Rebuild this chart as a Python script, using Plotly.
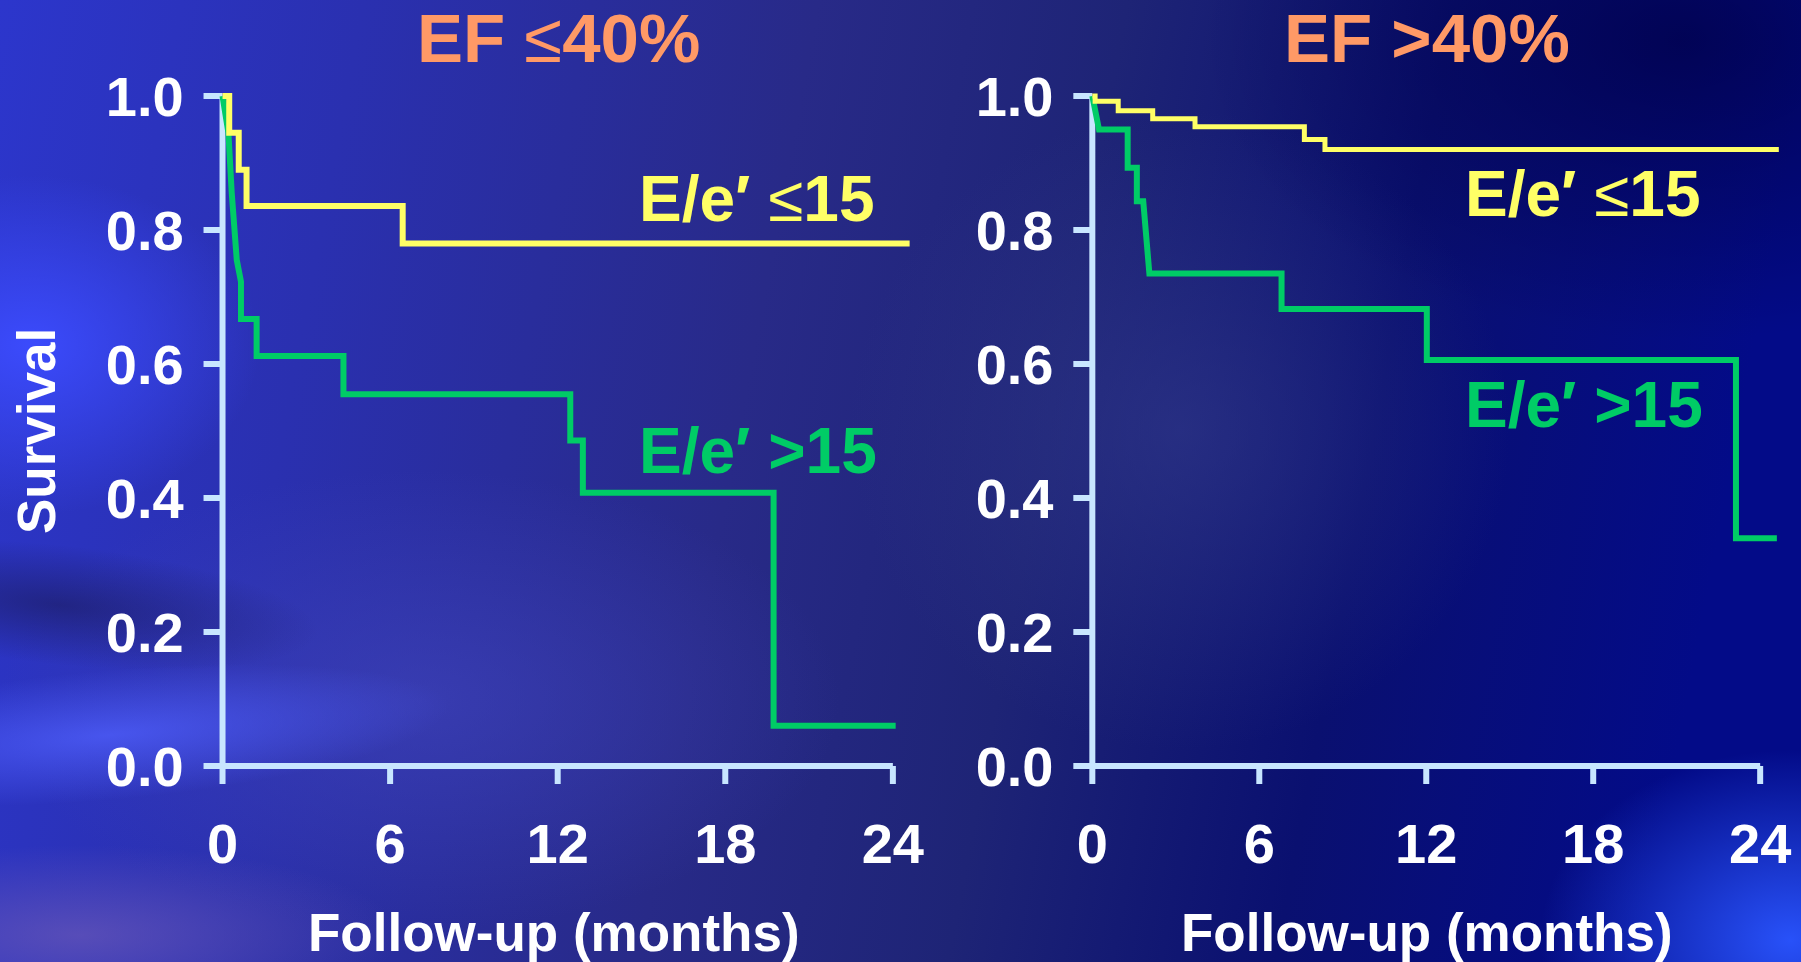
import base64
import plotly.graph_objects as go

W, H = 1801, 962

# Kaplan-Meier survival curves (polyline vertices: months, survival)
# EF <=40%
ef_low_ee_low_t = [0, 0.24, 0.24, 0.58, 0.58, 0.86, 0.86, 6.45, 6.45, 24.6]
ef_low_ee_low_s = [1.0, 1.0, 0.945, 0.945, 0.89, 0.89, 0.836, 0.836, 0.78, 0.78]

ef_low_ee_high_t = [0, 0.21, 0.33, 0.51, 0.66, 0.66, 1.22, 1.22, 4.33, 4.33,
                    12.45, 12.45, 12.9, 12.9, 19.73, 19.73, 24.1]
ef_low_ee_high_s = [1.0, 0.945, 0.855, 0.755, 0.723, 0.667, 0.667, 0.612, 0.612, 0.555,
                    0.555, 0.486, 0.486, 0.408, 0.408, 0.06, 0.06]

# EF >40%
ef_high_ee_low_t = [0, 0.1, 0.1, 0.93, 0.93, 2.17, 2.17, 3.69, 3.69, 7.62, 7.62,
                    8.36, 8.36, 24.67]
ef_high_ee_low_s = [1.0, 1.0, 0.992, 0.992, 0.978, 0.978, 0.966, 0.966, 0.954, 0.954,
                    0.935, 0.935, 0.92, 0.92]

ef_high_ee_high_t = [0, 0.24, 1.27, 1.27, 1.6, 1.6, 1.83, 2.05, 6.8, 6.8,
                     12.02, 12.02, 23.13, 23.13, 24.6]
ef_high_ee_high_s = [1.0, 0.95, 0.95, 0.893, 0.893, 0.843, 0.843, 0.735, 0.735, 0.682,
                     0.682, 0.606, 0.606, 0.34, 0.34]

panel_titles = ["EF <span style='font-weight:normal'>≤</span>40%", "EF >40%"]
curve_labels = ["E/e′ <span style='font-weight:normal'>≤</span>15", "E/e′ >15"]

x_ticks = [0, 6, 12, 18, 24]
x_tick_text = ["0", "6", "12", "18", "24"]
y_ticks = [0.0, 0.2, 0.4, 0.6, 0.8, 1.0]
y_tick_text = ["0.0", "0.2", "0.4", "0.6", "0.8", "1.0"]

YELLOW = "#FFFF66"
GREEN = "#00CC66"
AXIS = "#C8E6FF"
ORANGE = "#FF9966"
FONT = "Liberation Sans, Arial, sans-serif"

# slide-style blue background
svg = f"""<svg xmlns='http://www.w3.org/2000/svg' width='{W}' height='{H}' viewBox='0 0 {W} {H}' preserveAspectRatio='none'>
<defs>
 <linearGradient id='base' x1='0' y1='0' x2='1' y2='0.1'>
  <stop offset='0' stop-color='#2c36cc'/>
  <stop offset='0.2' stop-color='#2a30b0'/>
  <stop offset='0.45' stop-color='#282a88'/>
  <stop offset='0.62' stop-color='#1e2476'/>
  <stop offset='0.8' stop-color='#0a1070'/>
  <stop offset='1' stop-color='#030b88'/>
 </linearGradient>
 <radialGradient id='glowL'><stop offset='0' stop-color='#3c4cff' stop-opacity='0.95'/><stop offset='1' stop-color='#3c4cff' stop-opacity='0'/></radialGradient>
 <radialGradient id='streak'><stop offset='0' stop-color='#5060ff' stop-opacity='0.75'/><stop offset='1' stop-color='#5060ff' stop-opacity='0'/></radialGradient>
 <radialGradient id='dark'><stop offset='0' stop-color='#1a1a5c' stop-opacity='0.6'/><stop offset='1' stop-color='#1a1a5c' stop-opacity='0'/></radialGradient>
 <radialGradient id='navy'><stop offset='0' stop-color='#000048' stop-opacity='0.75'/><stop offset='1' stop-color='#000048' stop-opacity='0'/></radialGradient>
 <radialGradient id='glowR'><stop offset='0' stop-color='#2a55ff' stop-opacity='0.95'/><stop offset='1' stop-color='#2a55ff' stop-opacity='0'/></radialGradient>
 <radialGradient id='soft'><stop offset='0' stop-color='#4448c0' stop-opacity='0.55'/><stop offset='1' stop-color='#4448c0' stop-opacity='0'/></radialGradient>
 <radialGradient id='soft2'><stop offset='0' stop-color='#323a8c' stop-opacity='0.6'/><stop offset='1' stop-color='#323a8c' stop-opacity='0'/></radialGradient>
 <radialGradient id='purple'><stop offset='0' stop-color='#6a58b8' stop-opacity='0.7'/><stop offset='1' stop-color='#6a58b8' stop-opacity='0'/></radialGradient>
</defs>
<rect width='100%' height='100%' fill='url(#base)'/>
<ellipse cx='420' cy='700' rx='420' ry='230' fill='url(#soft)'/>
<ellipse cx='1180' cy='430' rx='330' ry='320' fill='url(#soft2)'/>
<ellipse cx='1680' cy='40' rx='480' ry='300' fill='url(#navy)'/>
<ellipse cx='30' cy='345' rx='230' ry='170' fill='url(#glowL)'/>
<ellipse cx='60' cy='605' rx='260' ry='60' transform='rotate(6 60 605)' fill='url(#dark)'/>
<ellipse cx='110' cy='735' rx='340' ry='65' transform='rotate(-5 110 735)' fill='url(#streak)'/>
<ellipse cx='80' cy='935' rx='320' ry='90' fill='url(#purple)'/>
<ellipse cx='1790' cy='940' rx='250' ry='190' fill='url(#glowR)'/>
</svg>"""
bg_uri = "data:image/svg+xml;base64," + base64.b64encode(svg.encode("utf-8")).decode("ascii")

# pixel frame of the two panels
X_RANGE = [-1.0, 25.0]
Y_RANGE = [-0.05, 1.03]
x_domains = [[194.6 / W, 920.8 / W], [1064.5 / W, 1788.0 / W]]
y_domain = [(H - 799.5) / H, (H - 75.9) / H]

fig = go.Figure()

panels = [
    (ef_low_ee_low_t, ef_low_ee_low_s, ef_low_ee_high_t, ef_low_ee_high_s),
    (ef_high_ee_low_t, ef_high_ee_low_s, ef_high_ee_high_t, ef_high_ee_high_s),
]

for i, (yt, ys, gt, gs) in enumerate(panels):
    xa = "x" if i == 0 else "x2"
    ya = "y" if i == 0 else "y2"
    fig.add_trace(go.Scatter(x=gt, y=gs, mode="lines", xaxis=xa, yaxis=ya,
                             line=dict(color=GREEN, width=6), hoverinfo="skip"))
    fig.add_trace(go.Scatter(x=yt, y=ys, mode="lines", xaxis=xa, yaxis=ya,
                             line=dict(color=YELLOW, width=6 if i == 0 else 5),
                             hoverinfo="skip"))

shapes = []
for i in range(2):
    xr = "x" if i == 0 else "x2"
    yr = "y" if i == 0 else "y2"
    # axis lines
    shapes.append(dict(type="line", xref=xr, yref=yr, x0=0, x1=0, y0=0, y1=y_ticks[-1],
                       line=dict(color=AXIS, width=6), layer="below"))
    shapes.append(dict(type="line", xref=xr, yref=yr, x0=0, x1=x_ticks[-1], y0=0, y1=0,
                       line=dict(color=AXIS, width=6), layer="below"))
    # tick marks
    for v in y_ticks:
        shapes.append(dict(type="line", xref=xr, yref=yr, xsizemode="pixel", xanchor=0,
                           x0=-19, x1=0, y0=v, y1=v,
                           line=dict(color=AXIS, width=6), layer="below"))
    for v in x_ticks:
        shapes.append(dict(type="line", xref=xr, yref=yr, ysizemode="pixel", yanchor=0,
                           x0=v, x1=v, y0=-18, y1=0,
                           line=dict(color=AXIS, width=6), layer="below"))

tickfont = dict(family=FONT, size=56, color="white", weight="bold")
axis_common = dict(showgrid=False, zeroline=False, showline=False, ticks="",
                   automargin=False, tickfont=tickfont, fixedrange=True)

layout = dict(
    template="none",
    width=W, height=H, autosize=False,
    margin=dict(l=0, r=0, t=0, b=0, pad=0),
    paper_bgcolor="#20268a", plot_bgcolor="rgba(0,0,0,0)",
    showlegend=False,
    font=dict(family=FONT, color="white"),
    images=[dict(source=bg_uri, xref="paper", yref="paper", x=0, y=1, sizex=1, sizey=1,
                 xanchor="left", yanchor="top", sizing="stretch", layer="below")],
    shapes=shapes,
)
for i in range(2):
    sx = "" if i == 0 else "2"
    layout["xaxis" + sx] = dict(domain=x_domains[i], range=X_RANGE, anchor="y" + sx,
                                tickvals=x_ticks, ticktext=x_tick_text,
                                ticklabelstandoff=6, **axis_common)
    layout["yaxis" + sx] = dict(domain=y_domain, range=Y_RANGE, anchor="x" + sx,
                                tickvals=y_ticks, ticktext=y_tick_text,
                                ticklabelstandoff=10, **axis_common)
fig.update_layout(**layout)


def px(xp, yp):
    return dict(xref="paper", yref="paper", x=xp / W, y=1 - yp / H)


anns = []
# panel titles
for cx, title in zip([558, 1427], panel_titles):
    anns.append(dict(text=f"<b>{title}</b>", showarrow=False, xanchor="center", yanchor="middle",
                     font=dict(family=FONT, size=69, color=ORANGE), **px(cx, 38)))
# axis titles
anns.append(dict(text="<b>Survival</b>", showarrow=False, textangle=-90,
                 xanchor="center", yanchor="middle",
                 font=dict(family=FONT, size=53, color="white"), **px(36, 431)))
for cx in [554, 1427]:
    anns.append(dict(text="<b>Follow-up (months)</b>", showarrow=False,
                     xanchor="center", yanchor="middle",
                     font=dict(family=FONT, size=53, color="white"), **px(cx, 932)))
# curve labels
label_pos = [
    ("x", "y", 19.15, 0.846, YELLOW, curve_labels[0]),
    ("x", "y", 19.16, 0.470, GREEN, curve_labels[1]),
    ("x2", "y2", 17.65, 0.854, YELLOW, curve_labels[0]),
    ("x2", "y2", 17.67, 0.539, GREEN, curve_labels[1]),
]
for xr, yr, lx, ly, col, txt in label_pos:
    anns.append(dict(text=f"<b>{txt}</b>", xref=xr, yref=yr, x=lx, y=ly, showarrow=False,
                     xanchor="center", yanchor="middle",
                     font=dict(family=FONT, size=64, color=col)))
fig.update_layout(annotations=anns)

fig.write_html("out.html", config={"displayModeBar": False})
